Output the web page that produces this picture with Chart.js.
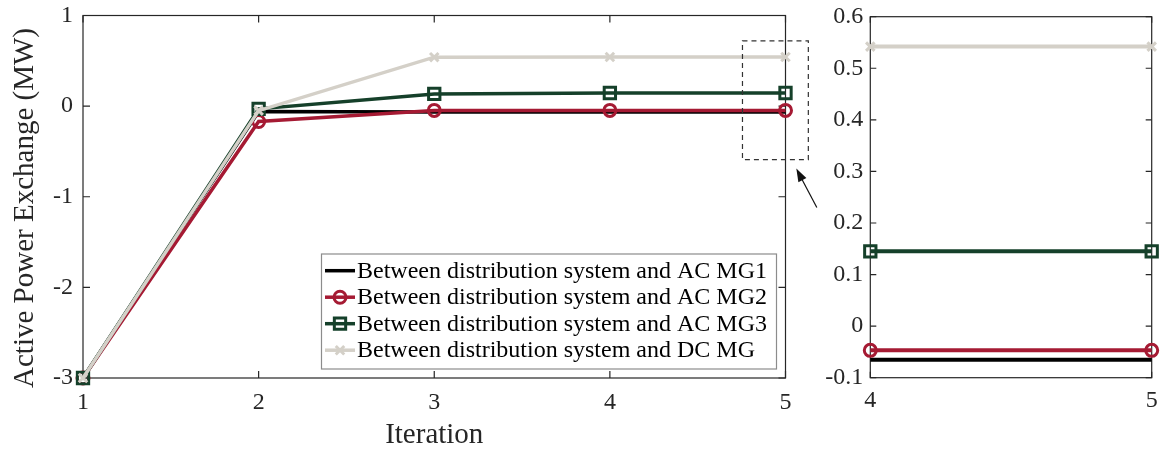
<!DOCTYPE html>
<html><head><meta charset="utf-8">
<script src="https://cdn.jsdelivr.net/npm/chart.js@4/dist/chart.umd.min.js"></script>
<style>
html,body{margin:0;padding:0;background:#fff;}
#wrap{position:relative;width:1164px;height:453px;overflow:hidden;background:#fff;}
#main{position:absolute;left:0;top:0;}
#inset{position:absolute;left:790px;top:0;}
</style></head><body>
<div id="wrap"><canvas id="main" width="830" height="453"></canvas><canvas id="inset" width="374" height="453"></canvas></div>
<script>
// ---- data ----
const iterations = [1, 2, 3, 4, 5];
const mg1 = [-3, -0.06, -0.065, -0.065, -0.065];
const mg2 = [-3, -0.17, -0.047, -0.047, -0.047];
const mg3 = [-3, -0.03, 0.135, 0.145, 0.145];
const dcmg = [-3, -0.05, 0.54, 0.542, 0.542];
const seriesLabels = [
  'Between distribution system and AC MG1',
  'Between distribution system and AC MG2',
  'Between distribution system and AC MG3',
  'Between distribution system and DC MG'
];
const mainXTicks = [1, 2, 3, 4, 5];
const mainYTicks = [-3, -2, -1, 0, 1];
const insetXTicks = [4, 5];
const insetYTicks = [-0.1, 0, 0.1, 0.2, 0.3, 0.4, 0.5, 0.6];
const xTitle = 'Iteration';
const yTitle = 'Active Power Exchange (MW)';
const zoomRegion = { x0: 4.755, x1: 5.13, y0: -0.59, y1: 0.72 };

// ---- styles ----
const FONT = "'Liberation Serif','Times New Roman',serif";
const AX = '#262626';
const colors = ['#000000', '#A51A33', '#15402A', '#D4D0C8'];
const styles = [
  { pointStyle: 'circle', radius: 0 },
  { pointStyle: 'circle', radius: 6 },
  { pointStyle: 'rect', radius: 8 },
  { pointStyle: 'crossRot', radius: 6 }
];
const seriesData = [mg1, mg2, mg3, dcmg];

function makeDatasets(xs, startIdx, lw) {
  return seriesData.map((arr, i) => ({
    label: seriesLabels[i],
    data: xs.map((x, k) => ({ x: x, y: arr[startIdx + k] })),
    borderColor: colors[i],
    backgroundColor: colors[i],
    borderWidth: lw,
    pointStyle: styles[i].pointStyle,
    pointRadius: styles[i].radius,
    pointHoverRadius: styles[i].radius,
    pointBorderWidth: 3,
    pointBorderColor: colors[i],
    pointBackgroundColor: 'rgba(255,255,255,0)',
    tension: 0,
    clip: false,
    order: 3 - i
  }));
}

function framePlugin(xt, yt, len) {
  return {
    id: 'frame',
    beforeDatasetsDraw(chart) {
      const { ctx, chartArea: a, scales: { x, y } } = chart;
      ctx.save();
      ctx.strokeStyle = AX;
      ctx.lineWidth = 1.2;
      ctx.strokeRect(a.left, a.top, a.right - a.left, a.bottom - a.top);
      ctx.beginPath();
      xt.forEach(v => {
        const p = x.getPixelForValue(v);
        ctx.moveTo(p, a.bottom); ctx.lineTo(p, a.bottom - len);
        ctx.moveTo(p, a.top); ctx.lineTo(p, a.top + len);
      });
      yt.forEach(v => {
        const p = y.getPixelForValue(v);
        ctx.moveTo(a.left, p); ctx.lineTo(a.left + len, p);
        ctx.moveTo(a.right, p); ctx.lineTo(a.right - len, p);
      });
      ctx.stroke();
      ctx.restore();
    }
  };
}

function scaleOpts(xt, yt, xmin, xmax, ymin, ymax, yw, xh, ypad, xpad, fmt) {
  return {
    x: {
      type: 'linear', min: xmin, max: xmax,
      grid: { display: false, drawTicks: false },
      border: { display: false },
      afterBuildTicks: s => { s.ticks = xt.map(v => ({ value: v })); },
      afterFit: s => { s.height = xh; s.paddingLeft = 0; s.paddingRight = 0; s.paddingTop = 0; s.paddingBottom = 0; },
      ticks: { color: AX, font: { family: FONT, size: 24 }, padding: xpad, maxRotation: 0, autoSkip: false, callback: v => String(v) }
    },
    y: {
      type: 'linear', min: ymin, max: ymax,
      grid: { display: false, drawTicks: false },
      border: { display: false },
      afterBuildTicks: s => { s.ticks = yt.map(v => ({ value: v })); },
      afterFit: s => { s.width = yw; s.paddingLeft = 0; s.paddingRight = 0; s.paddingTop = 0; s.paddingBottom = 0; },
      ticks: { color: AX, font: { family: FONT, size: 24 }, padding: ypad, autoSkip: false, callback: fmt }
    }
  };
}

const decorPlugin = {
  id: 'decor',
  afterDraw(chart) {
    const { ctx, chartArea: a, scales: { x, y } } = chart;
    ctx.save();
    // axis titles
    ctx.fillStyle = AX;
    ctx.font = '29px ' + FONT;
    ctx.textAlign = 'center';
    ctx.textBaseline = 'alphabetic';
    ctx.fillText(xTitle, (a.left + a.right) / 2, 443);
    ctx.save();
    ctx.translate(33, 208);
    ctx.rotate(-Math.PI / 2);
    ctx.fillText(yTitle, 0, 0);
    ctx.restore();

    // legend
    const bx = 321.5, by = 254, bw = 455, bh = 115;
    ctx.fillStyle = '#ffffff';
    ctx.fillRect(bx, by, bw, bh);
    ctx.strokeStyle = '#8c8c8c';
    ctx.lineWidth = 1.2;
    ctx.strokeRect(bx, by, bw, bh);
    chart.data.datasets.forEach((ds, i) => {
      const cy = 270.7 + i * 26.5;
      ctx.strokeStyle = ds.borderColor;
      ctx.lineWidth = 3.5;
      ctx.beginPath(); ctx.moveTo(325, cy); ctx.lineTo(355, cy); ctx.stroke();
      if (ds.pointRadius > 0) {
        ctx.lineWidth = 3;
        ctx.fillStyle = 'rgba(255,255,255,0)';
        ctx.strokeStyle = ds.pointBorderColor;
        Chart.helpers.drawPoint(ctx, { pointStyle: ds.pointStyle, radius: ds.pointRadius, rotation: 0, borderWidth: 3 }, 340, cy);
      }
      ctx.fillStyle = '#000';
      ctx.font = '24px ' + FONT;
      ctx.textAlign = 'left';
      ctx.textBaseline = 'middle';
      ctx.fillText(ds.label, 357, cy + 1);
    });

    // zoom region box
    const L = x.getPixelForValue(zoomRegion.x0), R = x.getPixelForValue(zoomRegion.x1);
    const T = y.getPixelForValue(zoomRegion.y1), B = y.getPixelForValue(zoomRegion.y0);
    ctx.strokeStyle = '#333';
    ctx.lineWidth = 1.2;
    ctx.setLineDash([5, 4]);
    ctx.strokeRect(L, T, R - L, B - T);
    ctx.setLineDash([]);
    // arrow
    const tx = R - 12, ty = B + 9, sx = R + 8.5, sy = B + 48;
    const ang = Math.atan2(ty - sy, tx - sx);
    ctx.strokeStyle = '#111'; ctx.fillStyle = '#111';
    ctx.lineWidth = 1.2;
    ctx.beginPath(); ctx.moveTo(sx, sy); ctx.lineTo(tx - 8 * Math.cos(ang), ty - 8 * Math.sin(ang)); ctx.stroke();
    ctx.beginPath();
    ctx.moveTo(tx, ty);
    ctx.lineTo(tx - 13 * Math.cos(ang) + 4.5 * Math.sin(ang), ty - 13 * Math.sin(ang) - 4.5 * Math.cos(ang));
    ctx.lineTo(tx - 13 * Math.cos(ang) - 4.5 * Math.sin(ang), ty - 13 * Math.sin(ang) + 4.5 * Math.cos(ang));
    ctx.closePath(); ctx.fill();
    ctx.restore();
  }
};

new Chart(document.getElementById('main'), {
  type: 'line',
  data: { datasets: makeDatasets(iterations, 0, 3.5) },
  options: {
    responsive: false, animation: false, devicePixelRatio: 1,
    layout: { padding: { left: 0, right: 44.5, top: 15.5, bottom: 0 } },
    plugins: { legend: { display: false }, tooltip: { enabled: false } },
    scales: scaleOpts(mainXTicks, mainYTicks, 1, 5, -3, 1, 83, 75, 10, 10, v => String(v))
  },
  plugins: [framePlugin(mainXTicks, mainYTicks, 7), decorPlugin]
});

new Chart(document.getElementById('inset'), {
  type: 'line',
  data: { datasets: makeDatasets(insetXTicks, 3, 4) },
  options: {
    responsive: false, animation: false, devicePixelRatio: 1,
    layout: { padding: { left: 0, right: 12.3, top: 16.7, bottom: 0 } },
    plugins: { legend: { display: false }, tooltip: { enabled: false } },
    scales: scaleOpts(insetXTicks, insetYTicks, 4, 5, -0.1, 0.6, 80.3, 75.3, 7, 9, v => String(Math.round(v * 10) / 10))
  },
  plugins: [framePlugin(insetXTicks, insetYTicks, 6)]
});
</script>
</body></html>
